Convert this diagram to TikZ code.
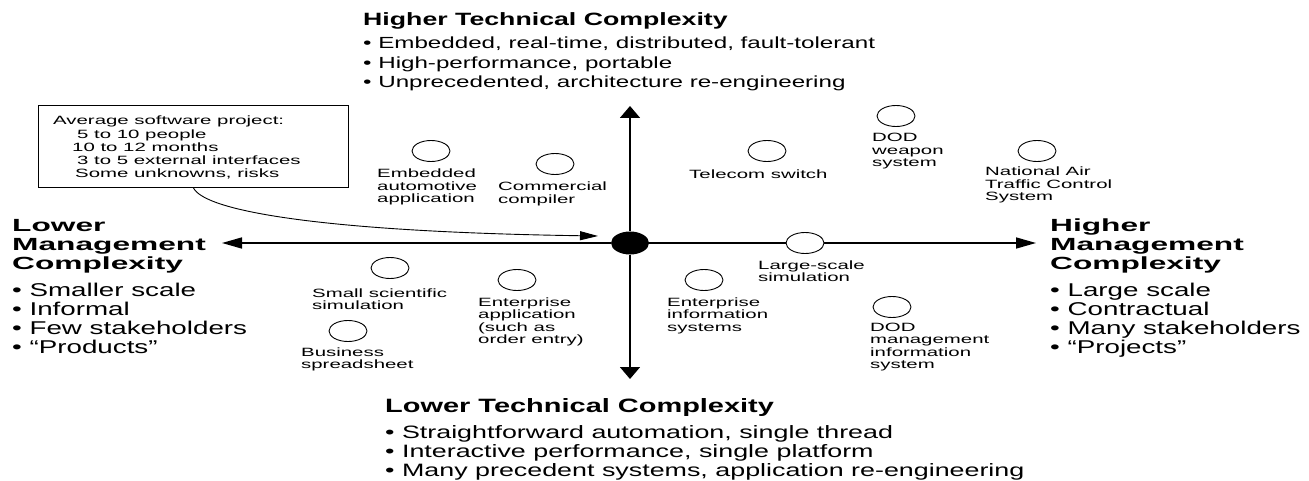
\documentclass[tikz,border=0pt]{standalone}
\usepackage{fontspec}
\setmainfont{Liberation Sans}
\newfontfamily\labf{Liberation Sans}[FakeStretch=1.7]
\newfontfamily\bodyf{Liberation Sans}[FakeStretch=1.5]
\newfontfamily\sidef{Liberation Sans}[FakeStretch=1.8]
\usetikzlibrary{arrows.meta,shapes.geometric}
\begin{document}
\begin{tikzpicture}[x=1pt,y=-1pt,
  lab/.style={anchor=base west, inner sep=0pt, align=left, font=\labf\fontsize{12}{12.5}\selectfont},
  bub/.style={draw, ellipse, fill=white, minimum width=38pt, minimum height=21pt, inner sep=0pt, line width=0.9pt},
  axisline/.style={line width=1.6pt},
  htip/.style={-{Triangle[length=20pt,width=11pt]}},
  vtip/.style={-{Triangle[length=12pt,width=20pt]}},
  ttl/.style={anchor=base west, inner sep=0pt, align=left, font=\bodyf\bfseries\fontsize{#1}{19}\selectfont},
  sidettl/.style={anchor=base west, inner sep=0pt, align=left, font=\sidef\bfseries\fontsize{17.6}{18.8}\selectfont},
  blist/.style={anchor=base west, inner sep=0pt, align=left, font=\bodyf\fontsize{#1}{19.1}\selectfont}
]
\useasboundingbox (0,0) rectangle (1309,481);
\fill[white] (0,0) rectangle (1309,481);

% axes
\node[ellipse, fill=black, minimum width=38pt, minimum height=23pt, inner sep=0pt] (c) at (630,243) {};
\coordinate (L) at (222,243);
\coordinate (R) at (1036,243);
\coordinate (T) at (630,106);
\coordinate (B) at (630,379);
\draw[axisline, htip] (c) -- (L);
\draw[axisline, htip] (c) -- (R);
\draw[axisline, vtip] (c) -- (T);
\draw[axisline, vtip] (c) -- (B);

% average project box (multi-line nodes are placed by the baseline of their last line)
\node[draw, line width=0.8pt, minimum width=310pt, minimum height=82pt, anchor=north west, inner sep=0pt] (box) at (38,105) {};
\node[anchor=base west, inner sep=0pt, align=left, font=\labf\fontsize{12}{13.2}\selectfont] (boxt) at (53,177.8)
  {Average software project:\\\hspace*{24pt}5 to 10 people\\\hspace*{19pt}10 to 12 months\\\hspace*{24pt}3 to 5 external interfaces\\\hspace*{22pt}Some unknowns, risks};
\coordinate (tip) at (598,236);
\draw[line width=0.9pt, -{Triangle[length=18pt,width=9pt]}] (box.south) .. controls (205,212) and (330,232) .. (tip);

% bubbles
\node[bub] (emb) at (431,151) {};
\node[lab] (embt) at (377,203) {Embedded\\automotive\\application};
\node[bub] (comp) at (555,164) {};
\node[lab] (compt) at (498,203.5) {Commercial\\compiler};
\node[bub] (tel) at (767,151) {};
\node[lab] (telt) at (689,179) {Telecom switch};
\node[bub] (dodw) at (896,116) {};
\node[lab] (dodwt) at (872,167) {DOD\\weapon\\system};
\node[bub] (nat) at (1037,151) {};
\node[lab] (natt) at (985,201) {National Air\\Traffic Control\\System};
\node[bub] (sss) at (390,268) {};
\node[lab] (ssst) at (312,309.5) {Small scientific\\simulation};
\node[bub] (bus) at (348,331) {};
\node[lab] (bust) at (301,368.5) {Business\\spreadsheet};
\node[bub] (ent) at (517,280) {};
\node[lab] (entt) at (478,343.5) {Enterprise\\application\\(such as\\order entry)};
\node[bub] (eis) at (704,280) {};
\node[lab] (eist) at (667,331) {Enterprise\\information\\systems};
\node[bub] (lss) at (805,243) {};
\node[lab] (lsst) at (758,281.5) {Large-scale\\simulation};
\node[bub] (dodm) at (892,307) {};
\node[lab] (dodmt) at (870,368.5) {DOD\\management\\information\\system};

% titles and lists
\node[ttl=17.8] (ttop) at (363,26) {Higher Technical Complexity};
\node[blist=16.1] (btop) at (363,87.2) {• Embedded, real-time, distributed, fault-tolerant\\• High-performance, portable\\• Unprecedented, architecture re-engineering};
\node[ttl=19.3] (tbot) at (385,412) {Lower Technical Complexity};
\node[blist=17.9] (bbot) at (385,476.2) {• Straightforward automation, single thread\\• Interactive performance, single platform\\• Many precedent systems, application re-engineering};
\node[sidettl] (tleft) at (12,269.6) {Lower\\Management\\Complexity};
\node[blist=18.5] (bleft) at (12,353.3) {• Smaller scale\\• Informal\\• Few stakeholders\\• “Products”};
\node[sidettl] (tright) at (1050,269.6) {Higher\\Management\\Complexity};
\node[blist=18.5] (bright) at (1050,353.3) {• Large scale\\• Contractual\\• Many stakeholders\\• “Projects”};
\end{tikzpicture}
\end{document}
